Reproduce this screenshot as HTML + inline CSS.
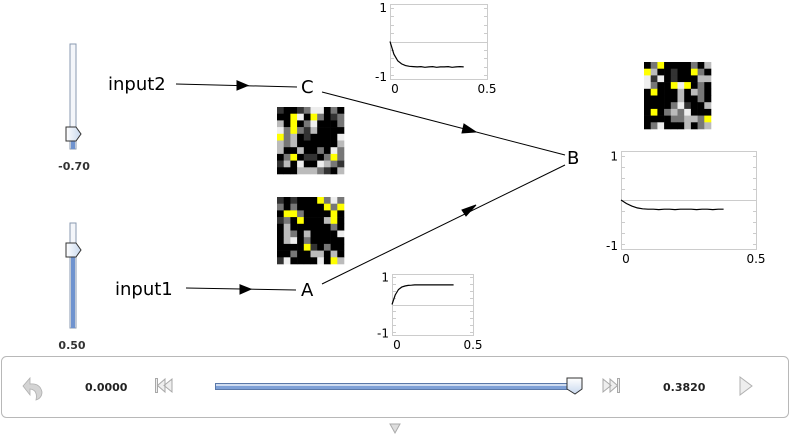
<!DOCTYPE html>
<html><head><meta charset="utf-8"><style>
body{margin:0;width:790px;height:440px;background:#fff;overflow:hidden;font-family:"DejaVu Sans","Liberation Sans",sans-serif}
svg{position:absolute;left:0;top:0;font-family:"DejaVu Sans","Liberation Sans",sans-serif}
</style></head><body>
<svg id="s" width="790" height="440" viewBox="0 0 790 440" xmlns="http://www.w3.org/2000/svg">
<defs>
<linearGradient id="tg" x1="0" y1="0" x2="1" y2="0"><stop offset="0" stop-color="#ffffff"/><stop offset="1" stop-color="#c8d8ee"/></linearGradient>
<linearGradient id="tgv" x1="0" y1="0" x2="0" y2="1"><stop offset="0" stop-color="#ffffff"/><stop offset="1" stop-color="#c8d8ee"/></linearGradient>
</defs>
<g>
<rect x="70" y="44" width="6" height="105" fill="#f4f6fa" stroke="#8a9ab0" stroke-width="1"/>
<rect x="71" y="134" width="4" height="15" fill="#6f93cf"/>
<path d="M66,127 L76,127 L81,134 L76,141 L66,141 Z" fill="url(#tg)" stroke="#333" stroke-width="1"/>
</g>
<text x="74" y="170" font-size="11" font-weight="bold" fill="#333" text-anchor="middle">-0.70</text>
<g>
<rect x="70" y="223" width="6" height="105" fill="#f4f6fa" stroke="#8a9ab0" stroke-width="1"/>
<rect x="71" y="250" width="4" height="78" fill="#6f93cf"/>
<path d="M66,243 L76,243 L81,250 L76,257 L66,257 Z" fill="url(#tg)" stroke="#333" stroke-width="1"/>
</g>
<text x="72" y="349" font-size="11" font-weight="bold" fill="#333" text-anchor="middle">0.50</text>
<text x="108" y="90" font-size="18" fill="#000">input2</text>
<text x="115" y="295" font-size="18" fill="#000">input1</text>
<text x="301" y="93" font-size="18" fill="#000">C</text>
<text x="301" y="296" font-size="18" fill="#000">A</text>
<text x="567" y="164" font-size="18" fill="#000">B</text>
<g stroke="#000" stroke-width="1" fill="#000">
<line x1="176" y1="84" x2="297" y2="87"/>
<path d="M237,80.8 L248,85.5 L237,90 Z"/>
<line x1="186" y1="288" x2="296" y2="290"/>
<path d="M240,284.8 L251,289.2 L240,294 Z"/>
<line x1="322" y1="92" x2="565" y2="155"/>
<path d="M464,124 L476,132 L462,133 Z"/>
<line x1="322" y1="284" x2="565" y2="165"/>
<path d="M462,210 L476,205 L466,216 Z"/>
</g>
<g id="grids"></g>
<g id="plots"></g>
<rect x="1.5" y="356.5" width="787" height="61" rx="5" fill="#fff" stroke="#b8b8b8"/>
<path d="M30,378 L30,384 Q40,383 42,392 Q42,398 36,400 Q38,390 30,389 L30,395 L23,386 Z" fill="#d4d4d4" stroke="#b0b0b0" stroke-width="0.8"/>
<text x="85" y="391" font-size="11" font-weight="bold" fill="#222">0.0000</text>
<g fill="#eee" stroke="#a8a8a8">
<rect x="155.5" y="378.5" width="2" height="14"/><path d="M172,379 L164,385.5 L172,392 Z M165,379 L157.5,385.5 L165,392 Z"/></g>
<rect x="215.5" y="383.5" width="360" height="6" fill="#cfdcf0" stroke="#5a78a8"/>
<rect x="216" y="386" width="359" height="3" fill="#7ea0d6"/>
<path d="M567,378 L582,378 L582,389 L575,394 L567,389 Z" fill="url(#tgv)" stroke="#333"/>
<g fill="#eee" stroke="#a8a8a8">
<path d="M603,379 L611,385.5 L603,392 Z M610,379 L617.5,385.5 L610,392 Z"/><rect x="617.5" y="378.5" width="2" height="14"/></g>
<text x="663" y="391" font-size="11" font-weight="bold" fill="#222">0.3820</text>
<path d="M740,377 L752,386 L740,395 Z" fill="#eee" stroke="#b0b0b0"/>
<path d="M390,424 L400,424 L395,433 Z" fill="#ddd" stroke="#aaa"/>
</svg>
<script>
const NS='http://www.w3.org/2000/svg';
const gridC=[[1,0,0,1,2,4,4,0,2,0],[0,0,5,4,0,5,2,0,1,2],[3,0,5,0,2,4,0,0,0,2],[4,2,5,2,1,3,0,0,0,0],[5,2,3,0,1,0,0,0,0,4],[3,2,3,0,0,0,0,0,0,3],[3,0,0,3,0,0,2,0,4,2],[0,2,5,0,1,1,0,2,5,2],[1,3,0,4,0,0,4,3,2,1],[0,0,0,3,3,3,2,1,0,3]];
const gridA=[[1,0,1,0,0,0,5,2,4,2],[2,0,2,0,0,0,0,5,2,5],[0,5,5,2,0,0,0,0,5,0],[1,2,0,5,0,0,0,3,5,0],[0,3,0,0,0,0,0,0,2,0],[0,3,2,0,3,0,0,0,0,4],[0,3,4,0,2,0,0,0,0,0],[0,0,0,0,5,1,0,2,0,0],[0,0,2,0,0,3,3,0,3,0],[1,4,0,0,0,0,4,0,5,3]];
const gridB=[[0,2,5,0,0,0,0,2,0,3],[5,3,0,0,1,0,0,5,2,0],[4,1,4,0,1,0,0,0,3,3],[4,2,0,0,5,4,5,0,2,0],[0,5,0,0,0,3,0,3,2,0],[0,0,0,0,0,3,0,0,2,0],[0,0,0,0,2,4,1,0,0,3],[0,5,0,2,3,2,4,0,0,0],[0,0,0,0,2,2,3,3,2,5],[0,2,4,0,0,0,3,0,2,3]];
const palette=['#000','#333','#777','#bbb','#eee','#ff0'];
const timeSteps=[0,0.02,0.04,0.06,0.08,0.10,0.12,0.14,0.16,0.18,0.20,0.22,0.24,0.26,0.28,0.30,0.32,0.34,0.36,0.38];
const seriesC=[0,-0.38,-0.58,-0.67,-0.72,-0.74,-0.75,-0.76,-0.75,-0.77,-0.76,-0.75,-0.77,-0.76,-0.76,-0.75,-0.77,-0.76,-0.75,-0.76];
const seriesA=[0,0.35,0.55,0.64,0.68,0.70,0.71,0.72,0.72,0.72,0.72,0.72,0.72,0.72,0.72,0.72,0.72,0.72,0.72,0.72];
const seriesB=[0,-0.08,-0.14,-0.18,-0.20,-0.21,-0.21,-0.22,-0.21,-0.21,-0.22,-0.21,-0.21,-0.21,-0.22,-0.21,-0.21,-0.22,-0.21,-0.21];
const yTicks=['1','-1'];const xTicks=['0','0.5'];
function mk(t,a,p){const e=document.createElementNS(NS,t);for(const k in a)e.setAttribute(k,a[k]);p.appendChild(e);return e;}
function drawGrid(data,x0,y0,size,name){
  const g=mk('g',{},document.getElementById('grids'));
  
  
  const c=size/10;
  data.forEach((row,r)=>row.forEach((v,col)=>{
    const rc=mk('rect',{x:x0+col*c,y:y0+r*c,width:c+0.3,height:c+0.3,fill:palette[v]},g);
    
    
  }));
}
drawGrid(gridC,277,107,67,'node-c-pixel-grid');
drawGrid(gridA,277,197,67,'node-a-pixel-grid');
drawGrid(gridB,644,62,67,'node-b-pixel-grid');
function drawPlot(vals,L,T,R,B,name,fs){
  const g=mk('g',{},document.getElementById('plots'));
  
  
  const ymax=1.12;
  const sx=t=>L+t/0.5*(R-L), sy=v=>(T+B)/2-v/ymax*(B-T)/2;
  mk('rect',{x:L+.5,y:T+.5,width:R-L,height:B-T,fill:'#fff',stroke:'#ccc'},g);
  for(let v=-1;v<=1.001;v+=0.25){const y=Math.round(sy(v))+.5;
    mk('line',{x1:L,x2:L+4,y1:y,y2:y,stroke:'#ccc'},g);mk('line',{x1:R-3,x2:R+1,y1:y,y2:y,stroke:'#ccc'},g);}
  mk('line',{x1:L,x2:R,y1:Math.round(sy(0))+.5,y2:Math.round(sy(0))+.5,stroke:'#ccc'},g);
  const t1=mk('text',{x:L-3,y:sy(1)+4,'font-size':fs,'text-anchor':'end',fill:'#000'},g);t1.textContent=yTicks[0];
  
  
  const t2=mk('text',{x:L-3,y:sy(-1)+6,'font-size':fs,'text-anchor':'end',fill:'#000'},g);t2.textContent=yTicks[1];
  
  
  const x1=mk('text',{x:sx(0)+5,y:B+14,'font-size':fs,'text-anchor':'middle',fill:'#000'},g);x1.textContent=xTicks[0];
  
  
  const x2=mk('text',{x:sx(0.5),y:B+14,'font-size':fs,'text-anchor':'middle',fill:'#000'},g);x2.textContent=xTicks[1];
  
  
  const d=vals.map((v,i)=>(i?'L':'M')+sx(timeSteps[i]).toFixed(1)+','+sy(v).toFixed(1)).join(' ');
  const p=mk('path',{d:d,fill:'none',stroke:'#000','stroke-width':1.2},g);
  
  
}
drawPlot(seriesC,390,4,487,79,'node-c-plot',12);
drawPlot(seriesA,392,274,473,335,'node-a-plot',12);
drawPlot(seriesB,621,151,756,249,'node-b-plot',12);
</script>
</body></html>
